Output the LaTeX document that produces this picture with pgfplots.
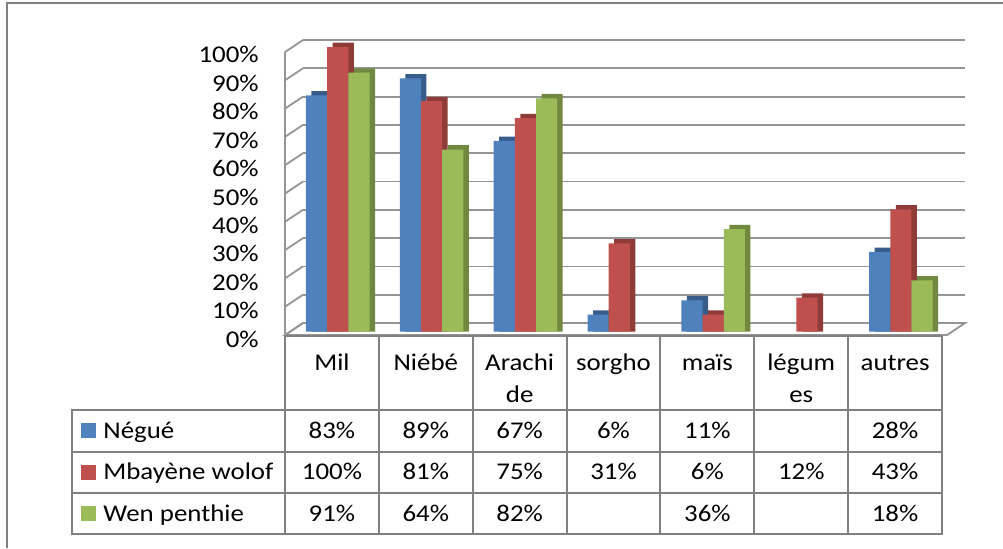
\documentclass[border=0pt]{standalone}
\usepackage{fontspec}
\setmainfont{Carlito}[FakeStretch=1.12]
\usepackage{pgfplots}
\usepackage{pgfplotstable}
\pgfplotsset{compat=1.18}

\definecolor{sblue}{HTML}{4F81BD}
\definecolor{sbluedk}{HTML}{385D8A}
\definecolor{sred}{HTML}{C0504D}
\definecolor{sreddk}{HTML}{8E3B39}
\definecolor{sgreen}{HTML}{9BBB59}
\definecolor{sgreendk}{HTML}{71893F}
\definecolor{gridc}{HTML}{959595}
\definecolor{tabc}{HTML}{808080}

% crops: 0 Mil, 1 Niebe, 2 Arachide, 3 sorgho, 4 mais, 5 legumes, 6 autres
\pgfplotstableread{
x neg mba wen
0 83  100 91
1 89  81  64
2 67  75  82
3 6   31  nan
4 11  6   36
5 nan 12  nan
6 28  43  18
}\crops

\newcommand{\tf}{\fontsize{12}{14.5}\selectfont}

\begin{document}
\begin{tikzpicture}[font=\tf]
% everything outside the axis is laid out in pixels of the reference, y downwards
\begin{scope}[x=0.5pt,y=-0.5pt]
\path[use as bounding box] (0,0) rectangle (1003,548);
\draw[tabc, line width=1pt] (6.5,548) -- (6.5,3) -- (1003,3);
% floor and walls
\filldraw[fill=white, draw=gridc, line width=0.9pt] (285,335) -- (947,335) -- (965,323) -- (303,323) -- cycle;
\foreach \k in {1,...,10}
  \draw[gridc, line width=0.9pt] (303,{323-28.3*\k}) -- (965,{323-28.3*\k});
\draw[gridc, line width=0.9pt] (285,335) -- (285,52);
\foreach \k in {0,...,10}
  \draw[gridc, line width=0.9pt] (285,{335-28.3*\k}) -- (303,{323-28.3*\k});
\end{scope}

\begin{axis}[at={(145.4pt,-165.85pt)}, anchor=south west, scale only axis,
  width=328.5pt, height=142.35pt,
  xmin=-0.5, xmax=6.5, ymin=0, ymax=100, clip=false,
  axis line style={draw=none}, xtick=\empty,
  ytick={0,10,...,100}, major tick length=0pt,
  yticklabel={\pgfmathprintnumber{\tick}\%},
  yticklabel style={anchor=east, inner sep=0pt, xshift=-15.9pt, yshift=-3.8pt, font=\tf},
  /pgf/number format/assume math mode=true]
\addplot[ybar, bar width=10.6pt, bar shift=-7.85pt, fill=sbluedk, draw=none] table[x=x, y expr=\thisrow{neg}+1.5] {\crops};
\addplot[ybar, bar width=10.6pt, bar shift=-10.6pt, fill=sblue, draw=none] table[x=x, y=neg] {\crops};
\addplot[ybar, bar width=10.6pt, bar shift=2.75pt, fill=sreddk, draw=none] table[x=x, y expr=\thisrow{mba}+1.5] {\crops};
\addplot[ybar, bar width=10.6pt, bar shift=0pt, fill=sred, draw=none] table[x=x, y=mba] {\crops};
\addplot[ybar, bar width=10.6pt, bar shift=13.35pt, fill=sgreendk, draw=none] table[x=x, y expr=\thisrow{wen}+1.5] {\crops};
\addplot[ybar, bar width=10.6pt, bar shift=10.6pt, fill=sgreen, draw=none] table[x=x, y=wen] {\crops};
\end{axis}

% data table
\begin{scope}[x=0.5pt,y=-0.5pt]
\draw[tabc, line width=1pt] (72,410) rectangle (942,534);
\draw[tabc, line width=1pt] (72,451.5) -- (942,451.5) (72,492.5) -- (942,492.5);
\foreach \k in {0,...,7}
  \draw[tabc, line width=1pt] ({285+93.86*\k},336) -- ({285+93.86*\k},534);
\draw[tabc, line width=1pt] (285,336) -- (942,336);
% header
\foreach \k/\a/\b in {0/Mil/, 1/Niébé/, 2/Arachi/de, 3/sorgho/, 4/maïs/, 5/légum/es, 6/autres/} {
  \node[anchor=base, inner sep=0pt] at ({285+93.86*(\k+0.5)},370) {\a};
  \node[anchor=base, inner sep=0pt] at ({285+93.86*(\k+0.5)},402) {\b};
}
% legend keys and series names
\fill[sblue]  (81,423) rectangle (96,438);
\fill[sred]   (81,465) rectangle (96,480);
\fill[sgreen] (81,506) rectangle (96,521);
\node[anchor=base west, inner sep=0pt] at (103,438) {Négué};
\node[anchor=base west, inner sep=0pt] at (103,479.5) {Mbayène wolof};
\node[anchor=base west, inner sep=0pt] at (103,521) {Wen penthie};
% values
\foreach \k/\a/\b/\c in {0/83\%/100\%/91\%, 1/89\%/81\%/64\%, 2/67\%/75\%/82\%, 3/6\%/31\%/, 4/11\%/6\%/36\%, 5//12\%/, 6/28\%/43\%/18\%} {
  \node[anchor=base, inner sep=0pt] at ({285+93.86*(\k+0.5)},438) {\a};
  \node[anchor=base, inner sep=0pt] at ({285+93.86*(\k+0.5)},479.5) {\b};
  \node[anchor=base, inner sep=0pt] at ({285+93.86*(\k+0.5)},521) {\c};
}
\end{scope}
\end{tikzpicture}
\end{document}
